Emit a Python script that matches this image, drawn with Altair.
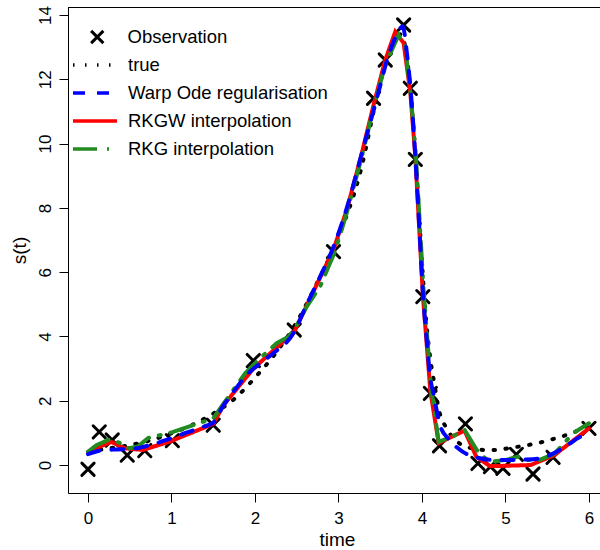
import altair as alt
import pandas as pd

FONT = "Liberation Sans"

# ---------------- data ----------------
obs_t = [0.0, 0.135, 0.29, 0.47, 0.68, 1.01, 1.5, 1.98, 2.47, 2.94, 3.42, 3.56, 3.78,
         3.86, 3.92, 4.01, 4.10, 4.21, 4.52, 4.67, 4.82, 4.97, 5.13, 5.33, 5.57, 6.0]
obs_s = [-0.13, 1.03, 0.78, 0.31, 0.45, 0.76, 1.24, 3.25, 4.2, 6.64, 11.41, 12.6, 13.69,
         11.72, 9.51, 5.24, 2.23, 0.6, 1.28, 0.05, -0.05, -0.1, 0.33, -0.28, 0.24, 1.14]

true_t = [0.0, 0.25, 0.5, 0.75, 1.0, 1.25, 1.5, 1.75, 2.0, 2.25, 2.5, 2.75, 3.0, 3.25,
          3.5, 3.6, 3.7, 3.75, 3.8, 3.85, 3.9, 3.95, 4.0, 4.05, 4.1, 4.15, 4.2, 4.3,
          4.45, 4.6, 4.75, 4.9, 5.05, 5.2, 5.4, 5.6, 5.8, 6.0]
true_s = [0.41, 0.52, 0.62, 0.77, 0.99, 1.25, 1.6, 2.05, 2.72, 3.49, 4.45, 5.7, 7.1, 9.0,
          11.9, 12.8, 13.35, 13.4, 13.0, 12.0, 10.4, 8.5, 6.3, 4.5, 3.3, 2.5, 1.75, 1.12,
          0.67, 0.52, 0.47, 0.47, 0.53, 0.59, 0.69, 0.83, 1.0, 1.24]

warp_t = [0.0, 0.1, 0.18, 0.3, 0.42, 0.58, 0.74, 0.94, 1.12, 1.38, 1.5, 1.62, 1.7, 1.9,
          2.06, 2.22, 2.46, 2.62, 2.78, 2.94, 3.1, 3.3, 3.46, 3.6, 3.7, 3.77, 3.82, 3.86,
          3.92, 3.97, 4.01, 4.06, 4.1, 4.14, 4.18, 4.22, 4.33, 4.49, 4.65, 4.85, 5.05,
          5.25, 5.4, 5.53, 5.73, 5.89, 6.0]
warp_s = [0.34, 0.42, 0.47, 0.48, 0.49, 0.52, 0.62, 0.78, 0.95, 1.19, 1.32, 1.85, 2.13, 2.8,
          3.16, 3.48, 4.1, 5.0, 5.86, 6.79, 8.0, 9.9, 11.41, 12.75, 13.4, 13.65, 12.8, 11.8,
          9.6, 7.3, 5.4, 3.8, 2.7, 2.2, 1.65, 1.2, 0.78, 0.41, 0.24, 0.16, 0.16,
          0.17, 0.2, 0.31, 0.6, 0.87, 1.0]

rkgw_t = [0.0, 0.14, 0.28, 0.44, 0.66, 0.98, 1.5, 1.62, 1.98, 2.47, 2.94, 3.1, 3.27, 3.42,
          3.56, 3.68, 3.78, 3.86, 3.92, 4.01, 4.10, 4.2, 4.34, 4.51, 4.65, 4.81, 4.91,
          5.3, 5.58, 6.0]
rkgw_s = [0.38, 0.57, 0.72, 0.52, 0.47, 0.73, 1.28, 1.85, 3.0, 4.15, 6.7, 7.95, 9.6, 11.2,
          12.6, 13.48, 13.13, 11.6, 9.6, 5.3, 2.3, 0.68, 0.86, 1.07, 0.26, -0.03, -0.03,
          0.0, 0.3, 1.14]

rkg_t = [0.0, 0.1, 0.26, 0.37, 0.49, 0.6, 0.72, 1.02, 1.26, 1.5, 1.64, 1.88, 2.06, 2.26,
         2.4, 2.47, 2.62, 2.78, 2.88, 2.96, 3.1, 3.27, 3.42, 3.56, 3.72, 3.8, 3.87, 3.93,
         4.02, 4.11, 4.2, 4.36, 4.51, 4.67, 4.81, 5.01, 5.15, 5.25, 5.41, 5.59, 5.81, 6.0]
rkg_s = [0.41, 0.62, 0.8, 0.7, 0.52, 0.58, 0.84, 1.03, 1.24, 1.45, 1.97, 2.85, 3.32, 3.79,
         3.99, 4.2, 4.93, 5.55, 6.17, 6.65, 7.85, 9.5, 11.1, 12.45, 13.38, 13.0, 11.4, 9.5,
         5.4, 2.4, 0.72, 0.88, 1.09, 0.41, 0.1, 0.16, 0.26, 0.16, 0.16, 0.36, 0.99, 1.3]

series_names = ["true", "Warp Ode regularisation", "RKGW interpolation", "RKG interpolation"]
series_colors = ["#000000", "#0000FF", "#FF0000", "#228B22"]
series_dash = [[1.5, 10.5], [12, 12], [1, 0], [24, 10, 2, 10]]
obs_label = "Observation"

x_ticks = [0, 1, 2, 3, 4, 5, 6]
y_ticks = [0, 2, 4, 6, 8, 10, 12, 14]

# ---------------- tables ----------------
df_obs = pd.DataFrame({"t": obs_t, "s": obs_s, "kind": [obs_label] * len(obs_t)})
rows = []
for name, ts, ss in [(series_names[0], true_t, true_s),
                     (series_names[1], warp_t, warp_s),
                     (series_names[2], rkgw_t, rkgw_s),
                     (series_names[3], rkg_t, rkg_s)]:
    for t, s in zip(ts, ss):
        rows.append({"series": name, "t": t, "s": s})
df_lines = pd.DataFrame(rows)

# ---------------- scales / axes ----------------
W, H = 532, 486
xs = alt.Scale(domain=[-0.2395, 6.132], nice=False, zero=False)
ys = alt.Scale(domain=[-0.87, 14.25], nice=False, zero=False)

x_axis = alt.Axis(
    values=x_ticks, title="time", grid=False,
    domain=True, domainColor="black", domainWidth=1,
    ticks=True, tickColor="black", tickWidth=1, tickSize=9,
    labelFont=FONT, labelFontSize=17, labelColor="black",
    labelBaseline="alphabetic", labelPadding=21, labelFlush=False,
    titleFont=FONT, titleFontSize=19, titleFontWeight="normal", titleColor="black",
    titleBaseline="alphabetic", titleAlign="center", titleX=269, titleY=52,
)
y_axis = alt.Axis(
    values=y_ticks, title="s(t)", grid=False,
    domain=True, domainColor="black", domainWidth=1,
    ticks=True, tickColor="black", tickWidth=1, tickSize=9,
    labelFont=FONT, labelFontSize=17, labelColor="black",
    labelAngle=270, labelAlign="center", labelBaseline="alphabetic",
    labelPadding=9, labelFlush=False,
    titleFont=FONT, titleFontSize=19, titleFontWeight="normal", titleColor="black",
    titleAngle=270, titleAlign="center", titleBaseline="alphabetic",
    titleX=-43, titleY=H / 2,
)

line_leg = alt.Legend(
    title=None, orient="none", legendX=3, legendY=44, padding=0,
    symbolType="stroke", symbolSize=1936, symbolStrokeWidth=3.5,
    labelFont=FONT, labelFontSize=18.5, labelColor="black", labelOffset=9,
    labelLimit=0, clipHeight=28, rowPadding=0,
)
obs_leg = alt.Legend(
    title=None, orient="none", legendX=20, legendY=16, padding=0,
    symbolSize=150, symbolStrokeWidth=3, symbolStrokeColor="black",
    symbolFillColor="transparent",
    labelFont=FONT, labelFontSize=18.5, labelColor="black", labelOffset=21,
    labelLimit=0, clipHeight=28, rowPadding=0,
)

X_PATH = "M-1,-1L1,1M-1,1L1,-1"

color_scale = alt.Scale(domain=series_names, range=series_colors)
dash_scale = alt.Scale(domain=series_names, range=series_dash)

obs_layer = alt.Chart(df_obs).mark_point(
    filled=False, strokeWidth=3, size=150, color="black", opacity=1, strokeCap="round"
).encode(
    x=alt.X("t:Q", scale=xs, axis=x_axis),
    y=alt.Y("s:Q", scale=ys, axis=y_axis),
    shape=alt.Shape("kind:N", scale=alt.Scale(domain=[obs_label], range=[X_PATH]),
                    legend=obs_leg),
)


def line_layer(name, interp):
    return alt.Chart(df_lines).transform_filter(
        alt.datum.series == name
    ).mark_line(strokeWidth=4, strokeCap="round", interpolate=interp).encode(
        x=alt.X("t:Q", scale=xs, axis=x_axis),
        y=alt.Y("s:Q", scale=ys, axis=y_axis),
        color=alt.Color("series:N", scale=color_scale, legend=line_leg),
        strokeDash=alt.StrokeDash("series:N", scale=dash_scale, legend=line_leg),
    )


top_frame = alt.Chart(pd.DataFrame({"k": [0]})).mark_rule(
    color="black", strokeWidth=1
).encode(x=alt.value(0), x2=alt.value(W), y=alt.value(0.5))

chart = alt.layer(
    obs_layer,
    line_layer(series_names[0], "monotone"),
    line_layer(series_names[2], "linear"),
    line_layer(series_names[3], "linear"),
    line_layer(series_names[1], "monotone"),
    top_frame,
).properties(
    width=W, height=H,
    autosize=alt.AutoSizeParams(type="none"),
    padding={"left": 68, "top": 7, "right": 0, "bottom": 57},
    background="white",
).configure_view(stroke=None)

chart.save("out.html", embed_options={"renderer": "svg", "actions": False})
